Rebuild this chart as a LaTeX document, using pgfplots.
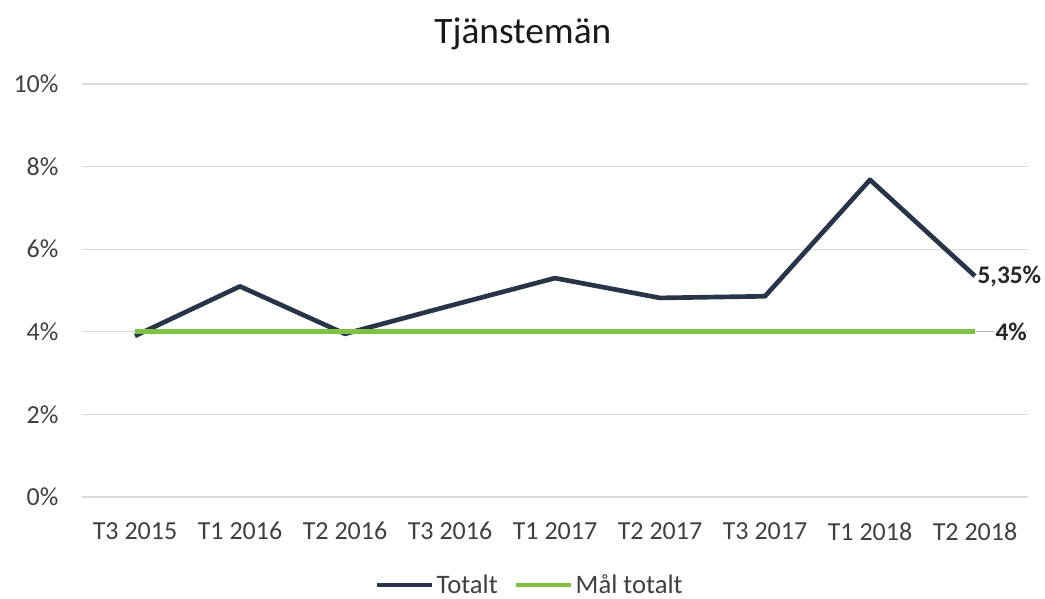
\documentclass[border=0pt]{standalone}
\usepackage{pgfplots}
\pgfplotsset{compat=1.18}
\usepackage{fontspec}
\setmainfont{Carlito}
\definecolor{navy}{RGB}{40,52,72}
\definecolor{goal}{RGB}{125,194,66}
\definecolor{gridc}{RGB}{217,217,217}
\definecolor{ticktxt}{RGB}{64,64,64}
\begin{document}
\begin{tikzpicture}[x=0.75pt,y=0.75pt]
\path[use as bounding box] (-82.5,-102) rectangle (962.5,497);
\begin{axis}[
  at={(0,0)}, anchor=south west,
  scale only axis, width=708.75pt, height=309.75pt,
  xmin=-0.5, xmax=8.5, ymin=0, ymax=10,
  xtick={0,...,8},
  xticklabels={T3 2015,T1 2016,T2 2016,T3 2016,T1 2017,T2 2017,T3 2017,T1 2018,T2 2018},
  ytick={0,2,4,6,8,10},
  yticklabel={\pgfmathprintnumber{\tick}\%},
  /pgf/number format/assume math mode=true,
  axis line style={draw=none},
  major tick length=0pt,
  xmajorgrids=false, ymajorgrids=true, grid style={draw=gridc, line width=0.9pt},
  tick label style={font=\fontsize{19.5}{22}\selectfont, text=ticktxt},
  xticklabel style={yshift=-15.5pt},
  yticklabel style={xshift=-14.5pt},
  legend style={at={(0.4735,-0.213)}, anchor=center, draw=none, legend columns=2,
    font=\fontsize{20}{22}\selectfont, text=ticktxt,
    /tikz/every even column/.append style={column sep=10pt}},
  legend image code/.code={\draw[#1] (0pt,0pt) -- (41pt,0pt);},
  clip=false,
]
\addplot[navy, line width=3.5pt, line join=round] coordinates {
 (0,3.9) (1,5.1) (2,3.95) (3,4.63) (4,5.3) (5,4.82) (6,4.86) (7,7.68) (8,5.35)};
\addlegendentry{Totalt}
\addplot[goal, line width=3.5pt] coordinates {(0,4) (8,4)};
\addlegendentry{Mål totalt}
\draw[gray!60, line width=0.8pt] (axis cs:8,4) -- (axis cs:8.17,4);
\node[anchor=west, inner sep=1pt, font=\bfseries\fontsize{19}{22}\selectfont, text=black!85] at (axis cs:8.01,5.35) {5,35\%};
\node[anchor=west, inner sep=1pt, font=\bfseries\fontsize{19}{22}\selectfont, text=black!85] at (axis cs:8.18,4) {4\%};
\node[font=\fontsize{28}{32}\selectfont, text=black!90] at (axis description cs:0.466,1.122) {Tjänstemän};
\end{axis}
\end{tikzpicture}
\end{document}
